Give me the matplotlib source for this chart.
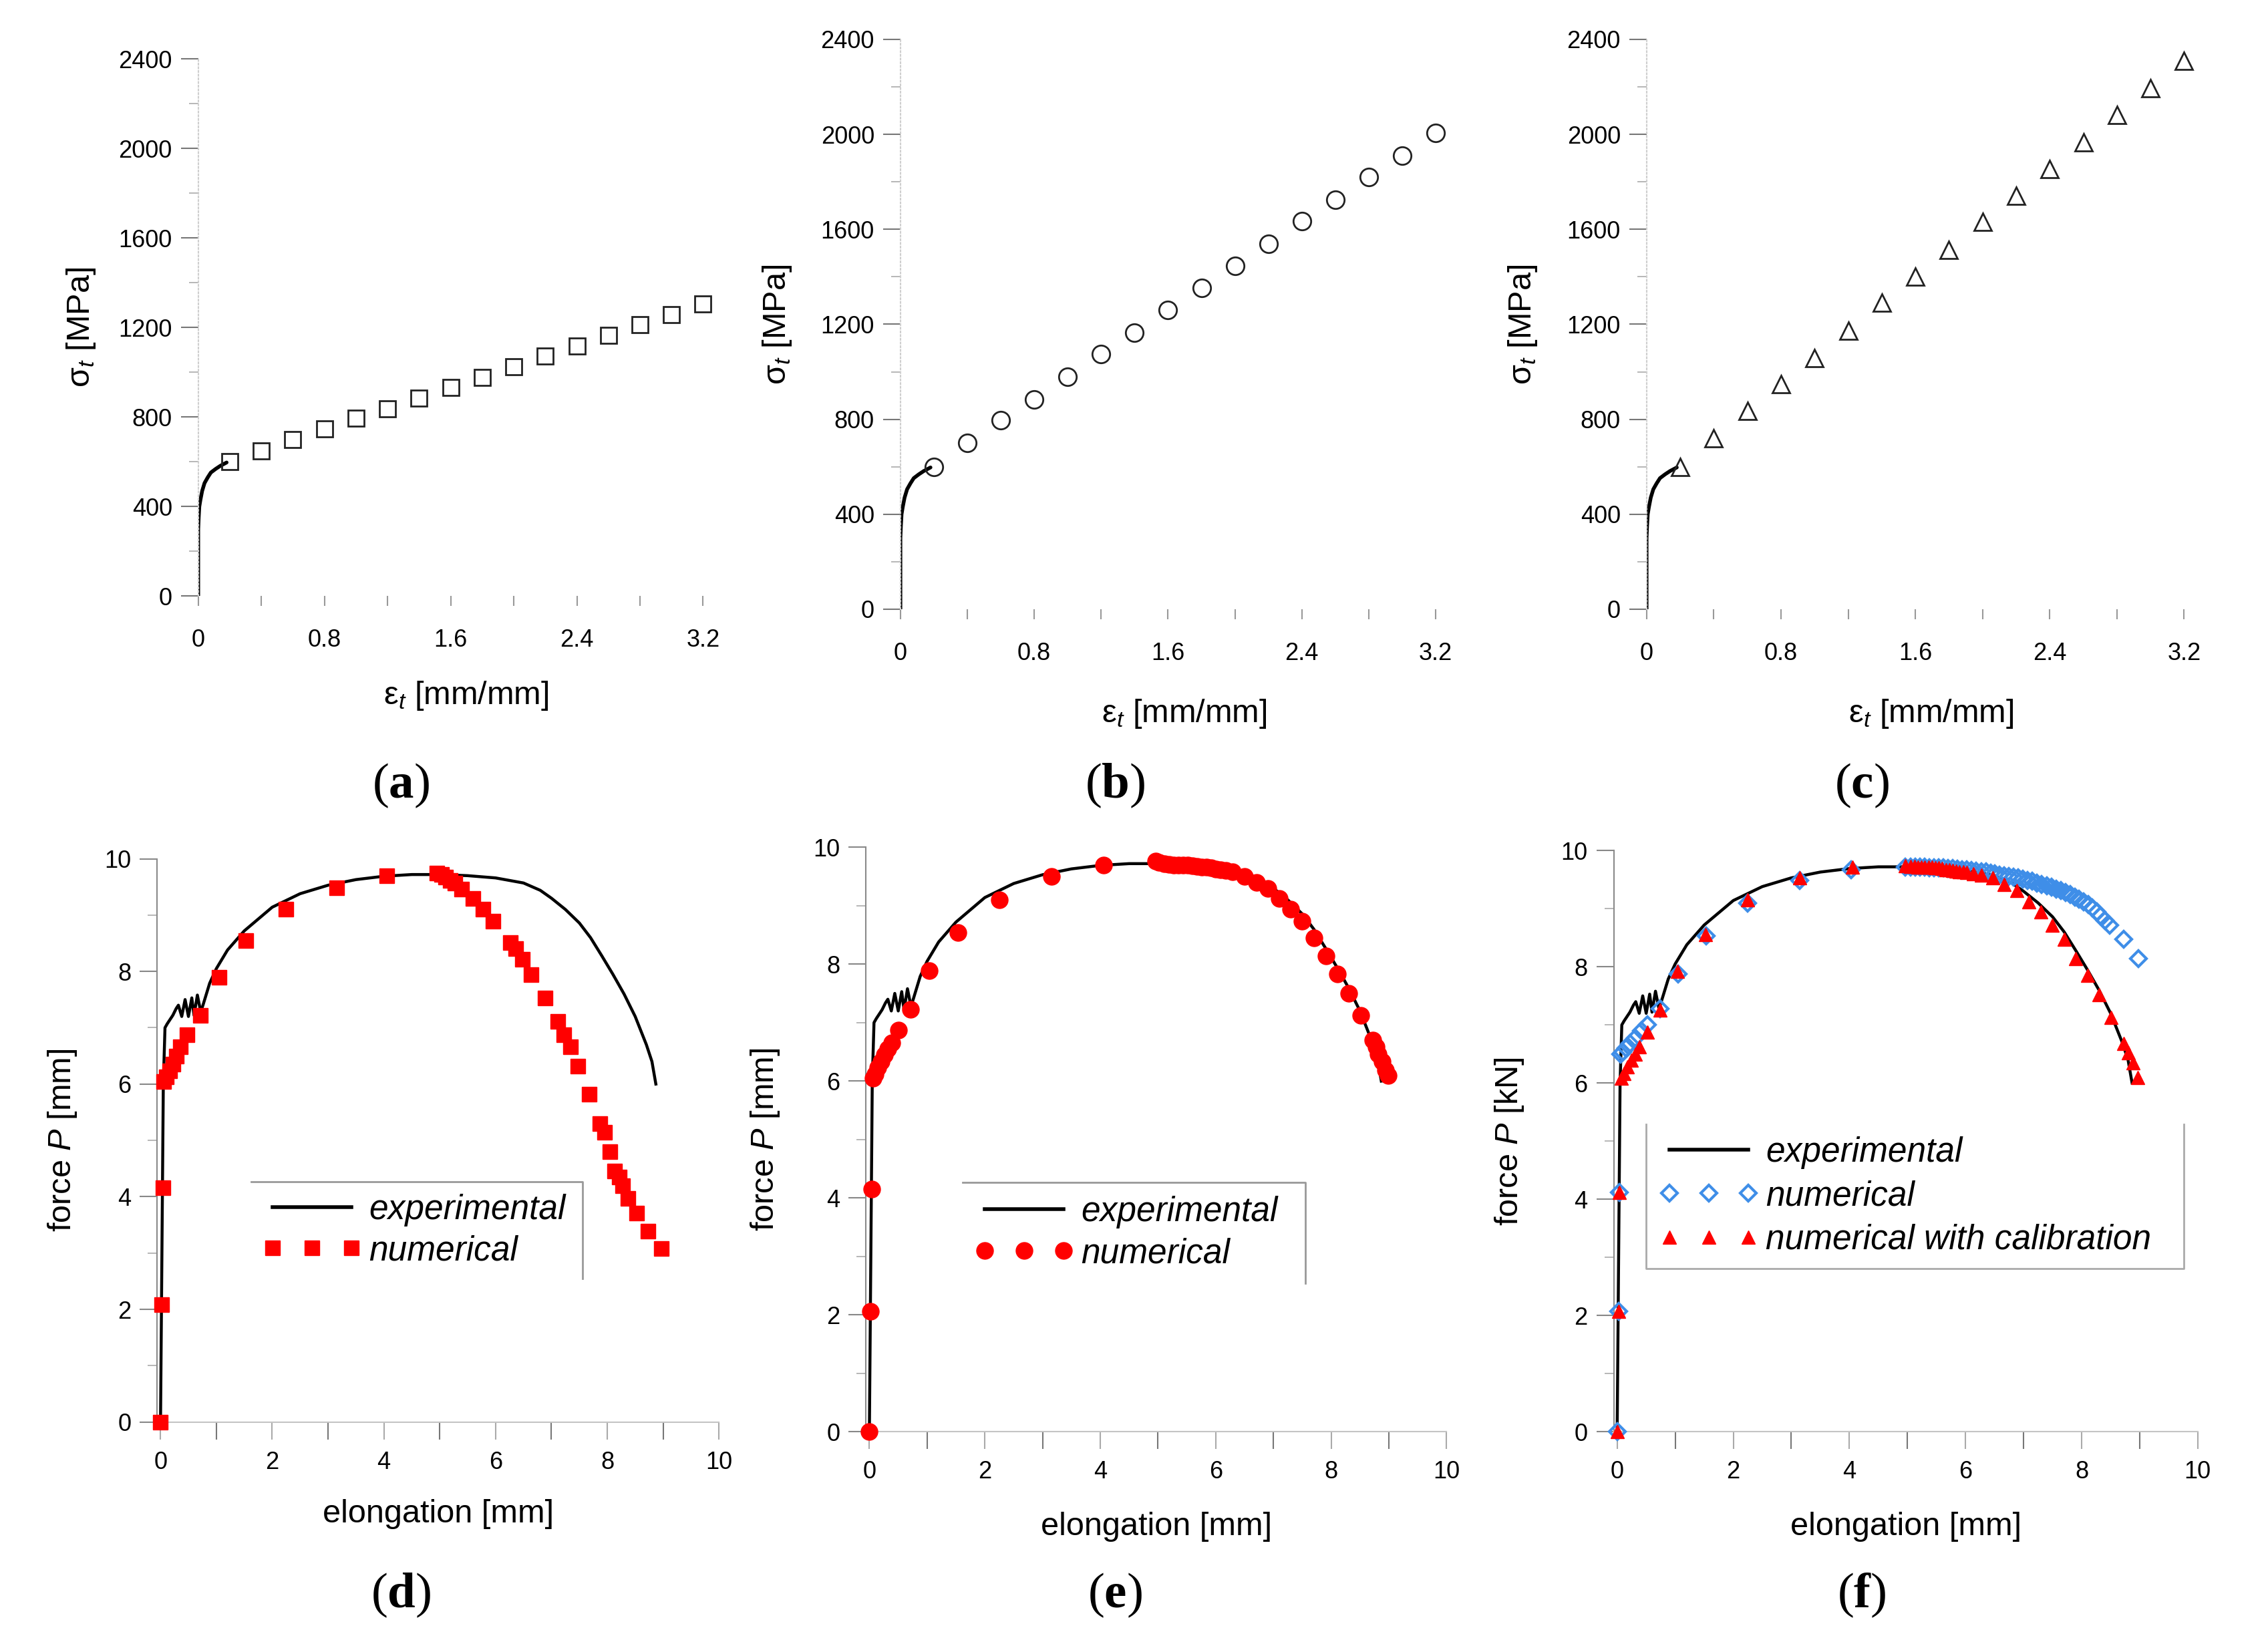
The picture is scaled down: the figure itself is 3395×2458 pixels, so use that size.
import matplotlib.pyplot as plt
from matplotlib.lines import Line2D
from matplotlib.ticker import MultipleLocator

plt.rcParams['font.family'] = 'Liberation Sans'
plt.rcParams['mathtext.fontset'] = 'custom'
plt.rcParams['mathtext.rm'] = 'Liberation Sans'
plt.rcParams['mathtext.it'] = 'Liberation Sans:italic'
plt.rcParams['mathtext.bf'] = 'Liberation Serif:bold'

# ----------------------------
# Data
# ----------------------------

# true stress-strain, initial (measured) part, same in (a)-(c)
eps_init = [0, 0, 0.003, 0.007, 0.014, 0.025, 0.04, 0.06, 0.08, 0.11, 0.14, 0.18]
sig_init = [0, 300, 350, 400, 430, 470, 505, 530, 552, 568, 582, 597]

# extrapolated points
eps_pts = [0.2, 0.4, 0.6, 0.8, 1.0, 1.2, 1.4, 1.6, 1.8, 2.0, 2.2, 2.4, 2.6, 2.8, 3.0, 3.2]
sig_a = [600, 648, 699, 747, 794, 838, 886, 933, 977, 1025, 1072, 1118, 1166, 1213, 1259, 1305]
sig_b = [600, 700, 795, 884, 979, 1074, 1165, 1260, 1354, 1445, 1540, 1635, 1724, 1819, 1911, 2006]
sig_c = [600, 721, 835, 949, 1059, 1173, 1290, 1400, 1514, 1632, 1742, 1854, 1968, 2082, 2195, 2309]

strain_ticks = [0, 0.8, 1.6, 2.4, 3.2]
strain_tick_labels = ['0', '0.8', '1.6', '2.4', '3.2']

# experimental force-elongation curve, same in (d)-(f)
exp_x = [0, 0.05, 0.08, 0.12, 0.22, 0.28, 0.32, 0.38, 0.44, 0.50, 0.56, 0.60, 0.66, 0.72, 0.76,
         0.88, 1.0, 1.2, 1.5, 2.0, 2.5, 3.0, 3.5, 4.0, 4.5, 5.0, 5.5, 6.0, 6.5, 6.8, 7.0, 7.25,
         7.5, 7.7, 7.9, 8.1, 8.3, 8.5, 8.7, 8.8, 8.87]
exp_y = [0, 6.0, 7.0, 7.07, 7.22, 7.34, 7.4, 7.2, 7.5, 7.2, 7.53, 7.22, 7.58, 7.28, 7.4,
         7.79, 8.05, 8.38, 8.72, 9.14, 9.38, 9.53, 9.63, 9.69, 9.72, 9.72, 9.7, 9.66, 9.57, 9.44,
         9.3, 9.1, 8.86, 8.6, 8.28, 7.95, 7.6, 7.2, 6.7, 6.4, 6.0]

# (d) numerical, squares
num_d_x = [0, 0.02, 0.04, 0.06, 0.1, 0.16, 0.22, 0.28, 0.36, 0.48, 0.72, 1.05, 1.53, 2.25, 3.15,
           4.05, 4.95, 5.03, 5.1, 5.19, 5.27, 5.39, 5.59, 5.78, 5.95, 6.26, 6.36, 6.48, 6.64,
           6.89, 7.12, 7.22, 7.34, 7.47, 7.68, 7.87, 7.95, 8.05, 8.13, 8.21, 8.27, 8.37, 8.53,
           8.73, 8.97]
num_d_y = [0, 2.08, 4.16, 6.05, 6.13, 6.24, 6.35, 6.5, 6.66, 6.88, 7.22, 7.9, 8.55, 9.11, 9.49,
           9.70, 9.74, 9.72, 9.68, 9.62, 9.57, 9.46, 9.30, 9.11, 8.89, 8.51, 8.40, 8.21, 7.94,
           7.53, 7.11, 6.88, 6.66, 6.32, 5.82, 5.30, 5.14, 4.80, 4.46, 4.35, 4.20, 3.97, 3.71,
           3.39, 3.08]

# (e) numerical, circles
num_e_x = [0, 0.02, 0.04, 0.06, 0.1, 0.15, 0.2, 0.26, 0.32, 0.39, 0.5, 0.71, 1.04, 1.54, 2.25,
           3.16, 4.06, 4.96, 5.02, 5.11, 5.19, 5.27, 5.35, 5.43, 5.52, 5.6, 5.68, 5.76, 5.84,
           5.92, 6.0, 6.08, 6.18, 6.29, 6.5, 6.71, 6.91, 7.1, 7.3, 7.5, 7.7, 7.91, 8.11, 8.31,
           8.52, 8.72, 8.78, 8.82, 8.88, 8.94, 8.99]
num_e_y = [0, 2.06, 4.15, 6.05, 6.12, 6.23, 6.34, 6.45, 6.55, 6.65, 6.87, 7.23, 7.89, 8.54, 9.10,
           9.50, 9.69, 9.76, 9.74, 9.72, 9.71, 9.70, 9.70, 9.69, 9.69, 9.68, 9.67, 9.66, 9.66,
           9.65, 9.63, 9.61, 9.60, 9.58, 9.50, 9.40, 9.29, 9.12, 8.94, 8.73, 8.45, 8.14, 7.83,
           7.50, 7.12, 6.70, 6.59, 6.46, 6.34, 6.19, 6.10]

# (f) numerical, diamonds
num_f_x = [0, 0.03, 0.04, 0.06, 0.1, 0.15, 0.22, 0.31, 0.42, 0.52, 0.74, 1.05, 1.53, 2.25, 3.15,
           4.03, 4.96, 5.05, 5.14, 5.22, 5.3, 5.38, 5.46, 5.54, 5.62, 5.7, 5.78, 5.86, 5.94, 6.02,
           6.1, 6.18, 6.27, 6.35, 6.43, 6.51, 6.59, 6.67, 6.75, 6.83, 6.91, 6.99, 7.07, 7.15,
           7.23, 7.31, 7.4, 7.48, 7.56, 7.64, 7.72, 7.8, 7.88, 7.96, 8.04, 8.12, 8.19, 8.26,
           8.32, 8.4, 8.48, 8.73, 8.98]
num_f_y = [0, 2.07, 4.12, 6.5, 6.53, 6.6, 6.68, 6.77, 6.9, 7.0, 7.28, 7.88, 8.53, 9.09, 9.49,
           9.67, 9.71, 9.71, 9.71, 9.71, 9.71, 9.70, 9.70, 9.70, 9.70, 9.69, 9.69, 9.68, 9.67,
           9.67, 9.66, 9.65, 9.64, 9.63, 9.61, 9.60, 9.58, 9.57, 9.55, 9.54, 9.53, 9.51, 9.49,
           9.47, 9.44, 9.42, 9.39, 9.37, 9.34, 9.31, 9.28, 9.24, 9.20, 9.16, 9.12, 9.07, 9.01,
           8.95, 8.88, 8.80, 8.71, 8.47, 8.14]

# (f) numerical with calibration, triangles
cal_f_x = [0, 0.03, 0.04, 0.07, 0.12, 0.18, 0.24, 0.31, 0.38, 0.52, 0.74, 1.04, 1.52, 2.25, 3.15,
           4.05, 4.96, 5.06, 5.12, 5.18, 5.24, 5.3, 5.36, 5.42, 5.48, 5.54, 5.6, 5.66, 5.72,
           5.78, 5.84, 5.9, 5.96, 6.02, 6.14, 6.27, 6.47, 6.67, 6.89, 7.09, 7.3, 7.49, 7.7,
           7.9, 8.1, 8.3, 8.51, 8.73, 8.81, 8.89, 8.97]
cal_f_y = [0, 2.07, 4.12, 6.08, 6.17, 6.28, 6.39, 6.5, 6.62, 6.88, 7.26, 7.92, 8.56, 9.15, 9.53,
           9.71, 9.74, 9.73, 9.73, 9.72, 9.72, 9.72, 9.71, 9.71, 9.70, 9.70, 9.69, 9.67, 9.67,
           9.66, 9.65, 9.64, 9.63, 9.62, 9.60, 9.58, 9.53, 9.42, 9.31, 9.12, 8.94, 8.72, 8.47,
           8.14, 7.85, 7.52, 7.13, 6.68, 6.52, 6.35, 6.09]

red = '#ff0000'
blue = '#3f8ee8'

# ----------------------------
# Figure
# ----------------------------

fig = plt.figure(figsize=(33.95, 24.58), dpi=100)

top_pos = [[0.0874, 0.637, 0.2226, 0.327],
           [0.397, 0.629, 0.236, 0.347],
           [0.726, 0.629, 0.237, 0.347]]
bot_pos = [[0.0693, 0.134, 0.2477, 0.343],
           [0.3818, 0.128, 0.256, 0.356],
           [0.7115, 0.128, 0.2575, 0.354]]

top_series = [(sig_a, 's', 17), (sig_b, 'o', 19), (sig_c, '^', 19)]

for pos, (sig, mk, ms) in zip(top_pos, top_series):
    ax = fig.add_axes(pos)
    ax.plot(eps_init, sig_init, color='black', lw=4, solid_capstyle='round')
    ax.plot(eps_pts, sig, ls='none', marker=mk, ms=ms, mfc='none', mec='#222222',
            mew=2, clip_on=False)

    ax.set_xlim(0, 3.2)
    ax.set_ylim(0, 2400)
    ax.set_xticks(strain_ticks)
    ax.set_xticklabels(strain_tick_labels)
    ax.xaxis.set_minor_locator(MultipleLocator(0.4))
    ax.yaxis.set_major_locator(MultipleLocator(400))
    ax.yaxis.set_minor_locator(MultipleLocator(200))

    for s in ['top', 'right', 'bottom']:
        ax.spines[s].set_visible(False)
    ax.spines['left'].set_color('#cfcfcf')
    ax.spines['left'].set_linestyle(':')
    ax.spines['left'].set_linewidth(1.5)

    ax.tick_params(axis='y', which='major', length=19, width=1.5, color='#777777',
                   pad=9, labelsize=26)
    ax.tick_params(axis='y', which='minor', length=10, width=1.2, color='#aaaaaa')
    ax.tick_params(axis='x', which='both', length=11, width=1.5, color='#999999',
                   pad=24, labelsize=26)

    ax.set_ylabel('σ$_t$ [MPa]', fontsize=35)
    ax.set_xlabel('ε$_t$ [mm/mm]', fontsize=35)
    ax.yaxis.set_label_coords(-0.2, 0.5)
    ax.xaxis.set_label_coords(0.53, -0.155)

axes_bot = []
for pos in bot_pos:
    ax = fig.add_axes(pos)
    ax.plot(exp_x, exp_y, color='black', lw=3.2, zorder=3)
    ax.set_xlim(-0.06, 10)
    ax.set_ylim(0, 10)
    ax.xaxis.set_major_locator(MultipleLocator(2))
    ax.xaxis.set_minor_locator(MultipleLocator(1))
    ax.yaxis.set_major_locator(MultipleLocator(2))
    ax.yaxis.set_minor_locator(MultipleLocator(1))

    for s in ['top', 'right']:
        ax.spines[s].set_visible(False)
    ax.spines['left'].set_color('#8a8a8a')
    ax.spines['left'].set_linewidth(1.5)
    ax.spines['bottom'].set_color('#c4c4c4')
    ax.spines['bottom'].set_linewidth(1.5)

    ax.tick_params(axis='y', which='major', length=19, width=1.5, color='#888888',
                   pad=9, labelsize=26)
    ax.tick_params(axis='y', which='minor', length=10, width=1.2, color='#aaaaaa')
    ax.tick_params(axis='x', which='major', length=19, width=1.5, color='#aaaaaa',
                   pad=12, labelsize=26)
    ax.tick_params(axis='x', which='minor', length=19, width=1.5, color='#777777')

    ax.set_xlabel('elongation [mm]', fontsize=35)
    ax.xaxis.set_label_coords(0.5, -0.137)
    axes_bot.append(ax)

ax_d, ax_e, ax_f = axes_bot

# (d)
ax_d.plot(num_d_x, num_d_y, ls='none', marker='s', ms=16, color=red, mec=red, zorder=4,
          clip_on=False)
ax_d.set_ylabel('force $P$ [mm]', fontsize=35)
ax_d.yaxis.set_label_coords(-0.14, 0.5)

# (e)
ax_e.plot(num_e_x, num_e_y, ls='none', marker='o', ms=18, color=red, mec=red, zorder=4,
          clip_on=False)
ax_e.set_ylabel('force $P$ [mm]', fontsize=35)
ax_e.yaxis.set_label_coords(-0.145, 0.5)

# (f)
ax_f.plot(num_f_x, num_f_y, ls='none', marker='D', ms=12.5, mfc='none', mec=blue, mew=3,
          zorder=4, clip_on=False)
ax_f.plot(cal_f_x, cal_f_y, ls='none', marker='^', ms=15, color=red, mec=red, zorder=5,
          clip_on=False)
ax_f.set_ylabel('force $P$ [kN]', fontsize=35)
ax_f.yaxis.set_label_coords(-0.15, 0.5)

# legends
h_exp = Line2D([], [], color='black', lw=4)
h_sq = Line2D([], [], ls='none', marker='s', ms=16, color=red)
h_ci = Line2D([], [], ls='none', marker='o', ms=18, color=red)
h_di = Line2D([], [], ls='none', marker='D', ms=12.5, mfc='none', mec=blue, mew=3)
h_tr = Line2D([], [], ls='none', marker='^', ms=15, color=red)

leg_font = {'style': 'italic', 'size': 37}
for ax, h in [(ax_d, h_sq), (ax_e, h_ci)]:
    ax.legend([h_exp, h], ['experimental', 'numerical'], loc='center left',
              bbox_to_anchor=(0.187, 0.34), frameon=False, numpoints=3, handlelength=2.9,
              handletextpad=0.2, labelspacing=0.25, borderpad=0, borderaxespad=0,
              prop=leg_font)
    ax.plot([0.167, 0.757, 0.757], [0.427, 0.427, 0.254], transform=ax.transAxes,
            color='#999999', lw=2, clip_on=False)

ax_f.legend([h_exp, h_di, h_tr], ['experimental', 'numerical', 'numerical with calibration'],
            loc='center left', bbox_to_anchor=(0.078, 0.405), frameon=False, numpoints=3,
            handlelength=2.9, handletextpad=0.2, labelspacing=0.32, borderpad=0,
            borderaxespad=0, prop=leg_font)
ax_f.plot([0.0556, 0.0556, 0.976, 0.976], [0.529, 0.281, 0.281, 0.529],
          transform=ax_f.transAxes, color='#aaaaaa', lw=2, clip_on=False)

# panel captions
cap_x = [0.1767, 0.4917, 0.8208]
for x, c in zip(cap_x, ['a', 'b', 'c']):
    fig.text(x, 0.5216, '(' + r'$\mathbf{' + c + '}$' + ')', ha='center', va='center',
             fontsize=54, family='Liberation Serif')
for x, c in zip(cap_x, ['d', 'e', 'f']):
    fig.text(x, 0.0282, '(' + r'$\mathbf{' + c + '}$' + ')', ha='center', va='center',
             fontsize=54, family='Liberation Serif')

fig.savefig('out.png', dpi=100)
